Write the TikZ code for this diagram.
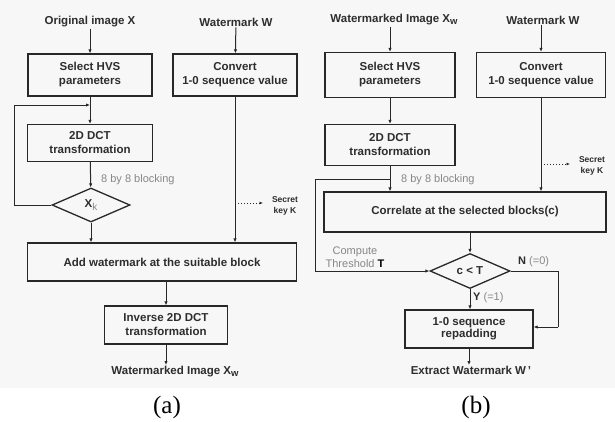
\documentclass[tikz,border=0pt]{standalone}
\usepackage{fontspec}
\setmainfont{Liberation Sans}
\newfontfamily\capfont{Liberation Serif}
\usetikzlibrary{arrows.meta,shapes.geometric}
\definecolor{linec}{RGB}{40,40,40}
\definecolor{textc}{RGB}{45,45,45}
\definecolor{greyt}{RGB}{135,135,135}
\definecolor{bgc}{RGB}{247,247,247}
\begin{document}
\begin{tikzpicture}[x=1pt,y=-1pt,
  box/.style={draw=linec, line width=1.3pt, minimum width=#1, inner sep=0pt, align=center,
    font=\fontsize{11.5}{14}\selectfont\bfseries, text=textc},
  txt/.style={font=\fontsize{11.5}{14}\selectfont\bfseries, text=textc, align=center, inner sep=1pt},
  gtxt/.style={font=\fontsize{11}{13}\selectfont, text=greyt, align=center, inner sep=0pt},
  ktxt/.style={font=\fontsize{8.5}{11}\selectfont\bfseries, text=textc, align=center, inner sep=0pt},
  dia/.style={draw=linec, line width=1.3pt, diamond, inner sep=0pt, minimum width=#1,
    font=\fontsize{11.5}{14}\selectfont\bfseries, text=textc},
  conn/.style={draw=linec, line width=1pt},
  arr/.style={conn, -{Latex[length=4pt,width=3.4pt]}},
  dotarr/.style={draw=linec, line width=1pt, dotted, -{Latex[length=3.5pt,width=3pt]}},
  captxt/.style={font=\capfont\fontsize{25}{28}\selectfont, text=black, inner sep=0pt}
]
\useasboundingbox (0,0) rectangle (615,421);
\fill[bgc] (0,0) rectangle (615,388);

% ---------- panel (a) ----------
\node[txt] (ta1) at (90,22) {Original image X};
\node[txt] (ta2) at (236,22) {Watermark W};
\node[box=124pt, minimum height=42pt] (sa) at (90,75) {Select HVS\\parameters};
\node[box=124pt, minimum height=42pt] (ca) at (235,75) {Convert\\1-0 sequence value};
\node[box=125pt, minimum height=37pt] (da) at (90,143) {2D DCT\\transformation};
\node[gtxt, anchor=west] (la) at (101,180) {8 by 8 blocking};
\node[dia=78pt, minimum height=34pt] (xa) at (91,205) {X\raisebox{-3pt}{\fontsize{10}{10}\selectfont\mdseries\textcolor{greyt}{k}}};
\node[box=269pt, minimum height=38pt] (aa) at (162,262) {Add watermark at the suitable block};
\node[box=123pt, minimum height=38pt] (ia) at (166,325) {Inverse 2D DCT\\transformation};
\node[txt, anchor=north] (oa) at (175,365) {Watermarked Image X\raisebox{-2pt}{\fontsize{9.5}{10}\selectfont w}};
\node[ktxt] (ka) at (285,206) {Secret\\key K};
\node[captxt] (capa) at (167,407) {(a)};

\coordinate (ja) at (90,105);
\coordinate (lla) at (14,205);
\coordinate (lua) at (14,105);
\coordinate (kxa) at (ca.south |- 0,203);
\coordinate (kea) at (263,203);

\draw[arr] (ta1) -- (sa);
\draw[arr] (ta2) -- (ca);
\draw[arr] (sa) -- (da);
\draw[arr] (da) -- (xa);
\draw[conn] (xa.west) -- (lla) -- (lua);
\draw[arr] (lua) -- (ja);
\draw[arr] (xa.south) -- (xa.south |- aa.north);
\draw[arr] (ca.south) -- (ca.south |- aa.north);
\draw[dotarr] (kxa) -- (kea);
\draw[arr] (ia.north |- aa.south) -- (ia.north);
\draw[arr] (ia.south) -- (ia.south |- oa.north);

% ---------- panel (b) ----------
\node[txt] (tb1) at (394,20) {Watermarked Image X\raisebox{-2pt}{\fontsize{9.5}{10}\selectfont w}};
\node[txt] (tb2) at (543,20) {Watermark W};
\node[box=130pt, minimum height=45pt] (sb) at (390,75) {Select HVS\\parameters};
\node[box=129pt, minimum height=45pt] (cb) at (541,75) {Convert\\1-0 sequence value};
\node[box=130pt, minimum height=41pt] (db) at (390,145) {2D DCT\\transformation};
\node[gtxt, anchor=west] (lb) at (401,180) {8 by 8 blocking};
\node[box=282pt, minimum height=40pt] (rb) at (465,212) {Correlate at the selected blocks(c)};
\node[dia=80pt, minimum height=35pt] (xb) at (470,271) {c < T};
\node[box=128pt, minimum height=38pt] (pb) at (469,329) {1-0 sequence\\[-2pt]repadding};
\node[txt, anchor=north] (ob) at (471,365) {Extract Watermark W\,'};
\node[ktxt] (kb) at (592,166) {Secret\\key K};
\node[gtxt, align=center] (thb) at (355,257) {Compute\\Threshold \textcolor{black}{\bfseries T}};
\node[gtxt, anchor=west] (nb) at (518,262) {\textcolor{textc}{\bfseries N} (=0)};
\node[gtxt, anchor=west] (yb) at (473,298) {\textcolor{textc}{\bfseries Y} (=1)};
\node[captxt] (capb) at (476,407) {(b)};

\coordinate (jb) at (db.south |- 0,179);
\coordinate (lub) at (315,179);
\coordinate (llb) at (315,271);
\coordinate (rrb) at (558,271);
\coordinate (rdb) at (558,327);
\coordinate (kxb) at (cb.south |- 0,164);
\coordinate (keb) at (570,164);

\draw[arr] (tb1.south -| sb.north) -- (sb);
\draw[arr] (tb2.south -| cb.north) -- (cb);
\draw[arr] (sb) -- (db);
\draw[arr] (db.south) -- (db.south |- rb.north);
\draw[conn] (jb) -- (lub) -- (llb);
\draw[arr] (llb) -- (xb.west);
\draw[arr] (cb.south) -- (cb.south |- rb.north);
\draw[dotarr] (kxb) -- (keb);
\draw[arr] (rb.south -| xb.north) -- (xb.north);
\draw[arr] (xb.south) -- (xb.south |- pb.north);
\draw[conn] (xb.east) -- (rrb) -- (rdb);
\draw[arr] (rdb) -- (rdb -| pb.east);
\draw[arr] (pb.south) -- (pb.south |- ob.north);
\end{tikzpicture}
\end{document}
